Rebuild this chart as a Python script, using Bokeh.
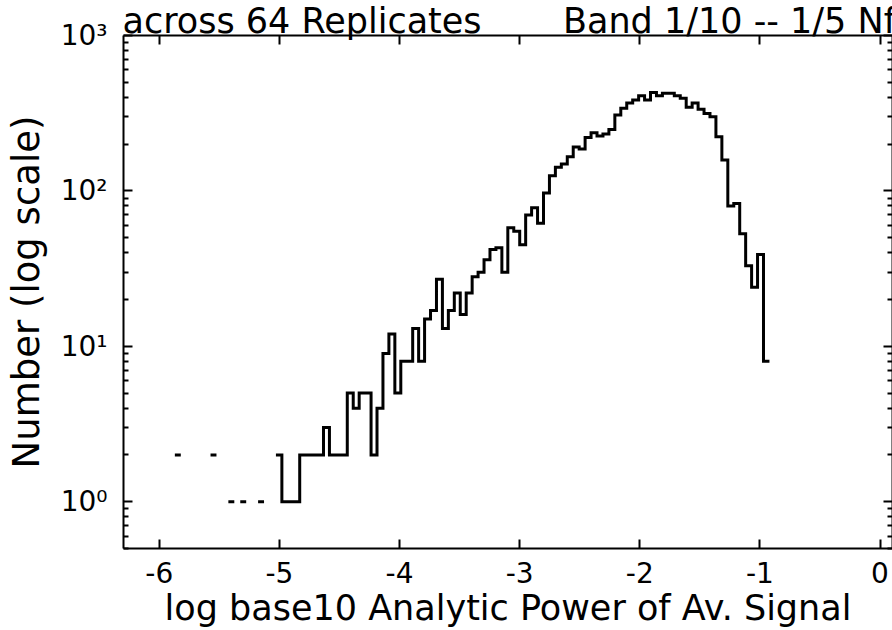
import numpy as np
from bokeh.plotting import figure
from bokeh.models import Range1d, LogAxis, LinearAxis, FixedTicker
from bokeh.embed import file_html
from bokeh.resources import INLINE

# ---------------- data ----------------
title_left = "across 64 Replicates"
title_right = "Band 1/10 -- 1/5 Nf"
x_label = "log base10 Analytic Power of Av. Signal"
y_label = "Number (log scale)"

x_ticks = [-6, -5, -4, -3, -2, -1, 0]
x_tick_labels = ["-6", "-5", "-4", "-3", "-2", "-1", "0"]
y_exponents = [0, 1, 2, 3]

# histogram: 100 equal-width bins of log10 power
bin_first_edge = -5.8705
bin_width = 0.0495
counts = [
    2, 0, 0, 0, 0, 0, 2, 0, 0, 1,
    0, 1, 0, 0, 1, 0, 0, 2, 1, 1,
    1, 2, 2, 2, 2, 3, 2, 2, 2, 5,
    4, 5, 5, 2, 4, 9, 12, 5, 8, 8,
    13, 8, 15, 17, 27, 13, 17, 22, 16, 22,
    28, 30, 36, 42, 43, 30, 58, 55, 45, 70,
    78, 62, 97, 125, 142, 149, 166, 192, 186, 221,
    237, 226, 232, 248, 308, 340, 368, 385, 410, 385,
    430, 410, 425, 425, 410, 395, 345, 368, 335, 315,
    300, 223, 158, 80, 83, 53, 33, 24, 39, 8,
]

FONT = "DejaVu Sans"
SUP = {"0": "\u2070", "1": "\u00b9", "2": "\u00b2", "3": "\u00b3"}

# ---------------- figure ----------------
x_start, x_end = -6.298, 0.104
y_start, y_end = 0.5, 1000
p = figure(width=892, height=630, y_axis_type="log",
           x_range=Range1d(x_start, x_end), y_range=Range1d(y_start, y_end),
           output_backend="svg", toolbar_location=None,
           min_border_left=123, min_border_top=35, min_border_right=0,
           min_border_bottom=80)
p.outline_line_color = None
p.background_fill_color = "white"
p.border_fill_color = "white"
p.xgrid.visible = False
p.ygrid.visible = False

# title line
p.title.text = title_left + "\u00a0" * 7 + "\u200a" + title_right
p.title.text_font = FONT
p.title.text_font_size = "35px"
p.title.text_font_style = "normal"
p.title.text_color = "black"
p.title.align = "left"
p.title.vertical_align = "bottom"
p.title.standoff = -10
p.title.offset = -1

# stairs path (zero bins -> gaps, as on a log axis)
edges = bin_first_edge + bin_width * np.arange(len(counts) + 1)
c = np.array(counts, dtype=float)
c[c == 0] = np.nan
xs = np.repeat(edges, 2)[1:-1]
ys = np.repeat(c, 2)
p.line(xs, ys, line_color="black", line_width=3, line_join="miter", line_cap="butt")

# extra box axes
p.add_layout(LinearAxis(), "above")
p.add_layout(LogAxis(), "right")

minor_y = [m * 10.0 ** e for e in range(-1, 3) for m in range(2, 10)]
minor_y = [v for v in minor_y if y_start <= v <= y_end]
major_y = [10.0 ** e for e in y_exponents]

for ax in p.xaxis:
    ax.ticker = FixedTicker(ticks=x_ticks, minor_ticks=[])
for ax in p.yaxis:
    ax.ticker = FixedTicker(ticks=major_y, minor_ticks=minor_y)

for ax in list(p.xaxis) + list(p.yaxis):
    ax.axis_line_color = "black"
    ax.axis_line_width = 2
    ax.major_tick_line_color = "black"
    ax.major_tick_line_width = 2
    ax.minor_tick_line_color = "black"
    ax.minor_tick_line_width = 2
    ax.major_tick_in = 9
    ax.major_tick_out = 0
    ax.minor_tick_in = 5
    ax.minor_tick_out = 0
    ax.major_label_text_font = FONT
    ax.major_label_text_color = "black"
    ax.axis_label_text_font = FONT
    ax.axis_label_text_font_style = "normal"
    ax.axis_label_text_color = "black"

xb = p.below[0]
xb.major_label_overrides = dict(zip(x_ticks, x_tick_labels))
xb.major_label_text_font_size = "28px"
xb.major_label_standoff = 13
xb.axis_label = x_label
xb.axis_label_text_font_size = "35px"
xb.axis_label_standoff = 2

yl = p.left[0]
yl.major_label_overrides = {10.0 ** e: "10" + SUP[str(e)] for e in y_exponents}
yl.major_label_text_font_size = "28px"
yl.major_label_standoff = 16
yl.axis_label = y_label
yl.axis_label_text_font_size = "37px"
yl.axis_label_standoff = 10

for ax in (p.above[0], p.right[0]):
    ax.major_label_text_font_size = "1px"
    ax.major_label_text_color = None
    ax.major_label_standoff = 0

open("out.html", "w").write(file_html(p, INLINE))
